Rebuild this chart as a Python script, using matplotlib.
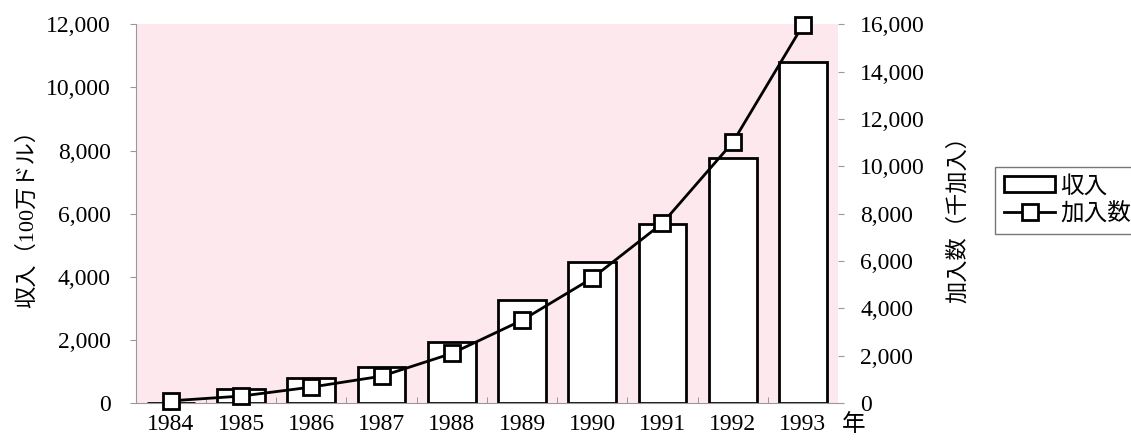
import matplotlib.pyplot as plt
import numpy as np

years = ['1984', '1985', '1986', '1987', '1988', '1989', '1990', '1991', '1992', '1993']
revenue = [0, 440, 790, 1140, 1930, 3260, 4460, 5660, 7750, 10790]          # 100万ドル
subscribers = [100, 300, 680, 1140, 2100, 3500, 5280, 7600, 11010, 15960]   # 千加入

fonts = ['Liberation Serif', 'Noto Sans CJK JP']
plt.rcParams['font.family'] = fonts
plt.rcParams['font.size'] = 17

fig = plt.figure(figsize=(11.31, 4.48), dpi=100)
ax = fig.add_axes([0.120, 0.100, 0.621, 0.846])
ax.set_facecolor('#fde8ee')

x = np.arange(len(years))
bars = ax.bar(x, revenue, width=0.68, color='white', edgecolor='black', linewidth=2, label='収入', zorder=2)

ax.set_xlim(-0.5, 9.5)
ax.set_ylim(0, 12000)
ax.set_yticks(np.arange(0, 12001, 2000))
ax.set_yticklabels([f'{v:,}' for v in range(0, 12001, 2000)])
ax.set_xticks(x)
ax.set_xticklabels(years)
ax.tick_params(axis='x', length=0, pad=8)
ax.set_xticks(x[:-1] + 0.5, minor=True)
ax.tick_params(axis='x', which='minor', direction='in', length=4, color='#888888')
ax.tick_params(axis='y', length=4, color='#999999', pad=14)
ax.set_ylabel('収入（100万ドル）', fontsize=16, labelpad=6)

for side in ['top', 'right']:
    ax.spines[side].set_visible(False)
ax.spines['left'].set_color('#999999')
ax.spines['bottom'].set_color('#999999')

ax2 = ax.twinx()
line, = ax2.plot(x, subscribers, color='black', linewidth=2, marker='s', markersize=11,
                 markerfacecolor='white', markeredgecolor='black', markeredgewidth=2,
                 label='加入数', zorder=3, clip_on=False)
ax2.set_ylim(0, 16000)
ax2.set_yticks(np.arange(0, 16001, 2000))
ax2.set_yticklabels([f'{v:,}' for v in range(0, 16001, 2000)])
ax2.tick_params(axis='y', length=4, color='#999999', pad=12)
ax2.set_ylabel('加入数（千加入）', fontsize=16, labelpad=16)
for side in ['top', 'right', 'left', 'bottom']:
    ax2.spines[side].set_visible(False)

ax.text(9.55, -0.028, '年', transform=ax.get_xaxis_transform(), fontsize=17, va='top', ha='left')

fig.legend([bars, line], ['収入', '加入数'], loc='upper left', bbox_to_anchor=(0.88, 0.627),
           frameon=True, fancybox=False, edgecolor='#555555', fontsize=17,
           handlelength=2.2, borderpad=0.35, labelspacing=0.25, handletextpad=0.2, borderaxespad=0)

fig.savefig('out.png', dpi=100)
